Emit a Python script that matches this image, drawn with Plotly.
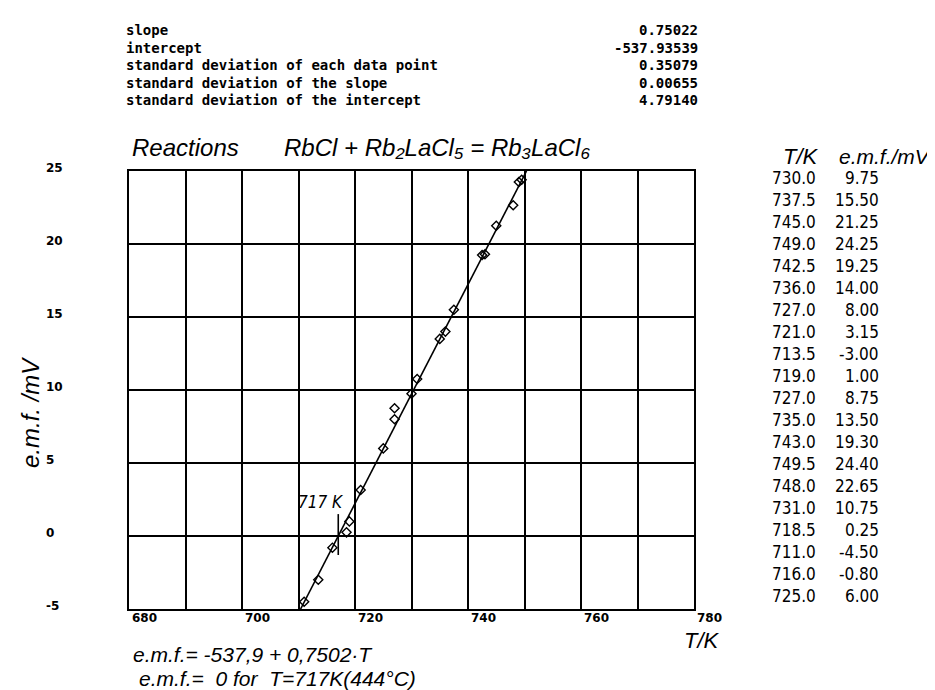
import plotly.graph_objects as go

# ---------------- data ----------------
T_K = [730.0, 737.5, 745.0, 749.0, 742.5, 736.0, 727.0, 721.0, 713.5, 719.0,
       727.0, 735.0, 743.0, 749.5, 748.0, 731.0, 718.5, 711.0, 716.0, 725.0]
EMF_mV = [9.75, 15.50, 21.25, 24.25, 19.25, 14.00, 8.00, 3.15, -3.00, 1.00,
          8.75, 13.50, 19.30, 24.40, 22.65, 10.75, 0.25, -4.50, -0.80, 6.00]

stat_labels = ["slope", "intercept", "standard deviation of each data point",
               "standard deviation of the slope", "standard deviation of the intercept"]
stat_values = [0.75022, -537.93539, 0.35079, 0.00655, 4.79140]
slope = stat_values[0]
intercept = stat_values[1]

x_ticks = [680, 700, 720, 740, 760, 780]
y_ticks = [-5, 0, 5, 10, 15, 20, 25]
x_range = [680, 780]
y_range = [-5, 25]

# ---------------- layout helpers ----------------
W, H = 935, 690
ML, MR, MT, MB = 121, 249, 163, 89
PW, PH = W - ML - MR, H - MT - MB


def xp(px):
    return (px - ML) / PW


def yp(py):
    return (H - MB - py) / PH


BLACK = "#000000"
SANS = "Liberation Sans, Arial, sans-serif"
NARROW = "Liberation Sans Narrow, Arial Narrow, DejaVu Sans Condensed, Liberation Sans, sans-serif"
PLOTTER = "DejaVu Sans Mono, monospace"


def ital(size, family=SANS):
    return dict(family=family, size=size, color=BLACK, style="italic")


fig = go.Figure()

# fitted line, from the bottom to the top of the plot
t_lo = (y_range[0] - intercept) / slope
t_hi = (y_range[1] - intercept) / slope
fig.add_trace(go.Scatter(x=[t_lo, t_hi], y=[y_range[0], y_range[1]], mode="lines",
                         line=dict(color=BLACK, width=1.6), hoverinfo="skip",
                         showlegend=False))
# measured points
fig.add_trace(go.Scatter(x=T_K, y=EMF_mV, mode="markers",
                         marker=dict(symbol="diamond-open", size=7, color=BLACK,
                                     line=dict(width=1.4, color=BLACK)),
                         showlegend=False))

T0 = -intercept / slope
fig.add_shape(type="line", xref="x", yref="y", x0=T0, x1=T0, y0=-1.3, y1=1.5,
              line=dict(color=BLACK, width=1.6))

ann = []
# statistics block
for i, (lab, val) in enumerate(zip(stat_labels, stat_values)):
    y = yp(22 + 17.6 * i)
    ann.append(dict(x=xp(116), y=y, xref="paper", yref="paper", text=lab,
                    xanchor="left", yanchor="middle", showarrow=False,
                    font=dict(family=PLOTTER, size=14, color=BLACK, weight="bold")))
    ann.append(dict(x=xp(692), y=y, xref="paper", yref="paper", text=f"{val:.5f}",
                    xanchor="right", yanchor="middle", showarrow=False,
                    font=dict(family=PLOTTER, size=14, color=BLACK, weight="bold")))

# title
ann.append(dict(x=xp(122), y=yp(139), xref="paper", yref="paper", text="Reactions",
                xanchor="left", yanchor="middle", showarrow=False, font=ital(24)))
ann.append(dict(x=xp(274), y=yp(139), xref="paper", yref="paper",
                text="RbCl + Rb₂LaCl₅ = Rb₃LaCl₆",
                xanchor="left", yanchor="middle", showarrow=False, font=ital(24)))

# table header
ann.append(dict(x=xp(793), y=yp(148), xref="paper", yref="paper", text="T/K",
                xanchor="center", yanchor="middle", showarrow=False, font=ital(22)))
ann.append(dict(x=xp(925), y=yp(148), xref="paper", yref="paper", text="e.m.f./mV",
                xanchor="right", yanchor="middle", showarrow=False, font=ital(21)))

# table rows
for i, (t, e) in enumerate(zip(T_K, EMF_mV)):
    y = yp(170 + 22 * i)
    ann.append(dict(x=xp(810), y=y, xref="paper", yref="paper", text=f"{t:.1f}",
                    xanchor="right", yanchor="middle", showarrow=False,
                    font=dict(family=NARROW, size=17, color=BLACK)))
    ann.append(dict(x=xp(873), y=y, xref="paper", yref="paper", text=f"{e:.2f}",
                    xanchor="right", yanchor="middle", showarrow=False,
                    font=dict(family=NARROW, size=17, color=BLACK)))

# y tick labels (left aligned)
for v in y_ticks:
    ann.append(dict(x=xp(36), y=v, xref="paper", yref="y", text=str(v), yshift=3,
                    xanchor="left", yanchor="middle", showarrow=False,
                    font=dict(family="DejaVu Sans", size=12, color=BLACK, weight="bold")))
# x tick labels (left aligned at gridline)
for v in x_ticks:
    ann.append(dict(x=v, y=yp(610), xref="x", yref="paper", text=str(v), xshift=1,
                    xanchor="left", yanchor="middle", showarrow=False,
                    font=dict(family="DejaVu Sans", size=12, color=BLACK, weight="bold")))

# axis titles
ann.append(dict(x=xp(694), y=yp(632), xref="paper", yref="paper", text="T/K",
                xanchor="center", yanchor="middle", showarrow=False, font=ital(22)))
ann.append(dict(x=xp(22), y=yp(405), xref="paper", yref="paper", text="e.m.f. /mV",
                textangle=-90, xanchor="center", yanchor="middle", showarrow=False,
                font=ital(24)))

# 717 K label
ann.append(dict(x=718.4, y=2.3, xref="x", yref="y", text="717 K",
                xanchor="right", yanchor="middle", showarrow=False, font=ital(17, NARROW)))

# equations
ann.append(dict(x=xp(123), y=yp(646), xref="paper", yref="paper",
                text="e.m.f.= -537,9 + 0,7502·T",
                xanchor="left", yanchor="middle", showarrow=False, font=ital(21)))
ann.append(dict(x=xp(129), y=yp(670), xref="paper", yref="paper",
                text="e.m.f.=\u00a0\u00a00 for\u00a0\u00a0T=717K(444°C)",
                xanchor="left", yanchor="middle", showarrow=False, font=ital(21)))

fig.update_layout(
    width=W, height=H,
    margin=dict(l=ML, r=MR, t=MT, b=MB, pad=0),
    paper_bgcolor="white", plot_bgcolor="white",
    showlegend=False,
    annotations=ann,
    xaxis=dict(range=x_range, dtick=10, tick0=680, showticklabels=False,
               showgrid=True, gridcolor=BLACK, gridwidth=1.5,
               showline=True, linecolor=BLACK, linewidth=2, mirror=True,
               zeroline=False, ticks=""),
    yaxis=dict(range=y_range, dtick=5, tick0=-5, showticklabels=False,
               showgrid=True, gridcolor=BLACK, gridwidth=1.5,
               showline=True, linecolor=BLACK, linewidth=2, mirror=True,
               zeroline=False, ticks=""),
)

fig.write_html("out.html")
